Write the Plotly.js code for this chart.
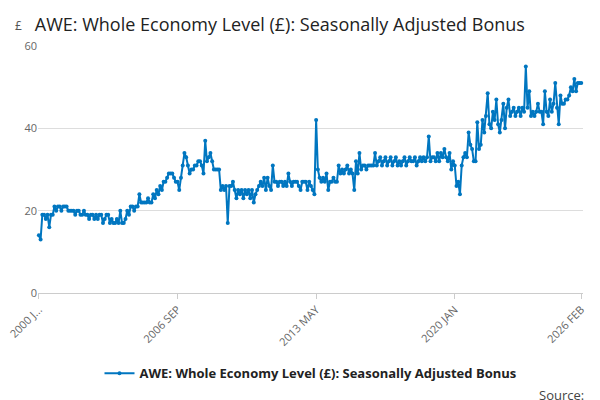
<!DOCTYPE html>
<html><head><meta charset="utf-8">
<script src="https://cdn.plot.ly/plotly-3.0.1.min.js"></script>
<style>body{margin:0}#c{width:600px;height:400px}</style></head>
<body><div id="c"></div>
<script>
const startYear = 2000;
const months = ["JAN","FEB","MAR","APR","MAY","JUN","JUL","AUG","SEP","OCT","NOV","DEC"];
const y2000=[14,13,19,19,18,19,16,19,19,21,20,21];
const y2001=[21,20,21,21,21,20,20,20,20,19,20,20];
const y2002=[19,19,20,19,19,18,19,19,18,19,18,19];
const y2003=[19,17,18,19,19,17,18,17,17,18,17,20];
const y2004=[17,17,18,20,19,21,21,20,21,21,24,22];
const y2005=[22,22,22,23,22,22,24,23,25,24,26,25];
const y2006=[27,27,28,29,29,29,28,27,27,25,28,31];
const y2007=[34,33,31,29,30,30,31,31,32,32,31,29];
const y2008=[37,32,33,34,32,30,30,30,30,25,26,25];
const y2009=[26,17,26,26,27,25,23,25,24,25,23,25];
const y2010=[24,25,23,25,22,24,25,26,27,26,28,25];
const y2011=[28,26,25,31,27,27,26,27,27,26,27,26];
const y2012=[29,27,26,27,27,27,26,25,27,27,27,25];
const y2013=[27,26,25,24,42,30,28,27,28,27,29,25];
const y2014=[27,27,28,27,27,31,29,30,29,30,31,29];
const y2015=[30,29,25,32,29,34,30,31,31,30,31,31];
const y2016=[31,31,34,31,32,33,31,32,33,31,32,33];
const y2017=[31,32,33,31,32,31,32,33,31,32,33,32];
const y2018=[32,33,31,32,33,32,33,32,33,38,32,33];
const y2019=[33,32,34,32,34,33,35,33,32,34,30,32];
const y2020=[31,26,27,24,31,33,34,33,39,36,35,32];
const y2021=[32,41.5,35,36,42,39,43,48.5,41,40,44,42];
const y2022=[47,41,39,42,46,40,45,47,43,44,45,43];
const y2023=[44,45,43,45,44,55,45,49,43,44,43,44];
const y2024=[46,44,44,41,49,44,43,47,44,46,51,45];
const y2025=[41,48,46,46,47,47,48,50,49,52,49,51];
const y2026=[51,51];
const tickIdx=[0,80,160,240,313];
const tickLabels=["2000 J...","2006 SEP","2013 MAY","2020 JAN","2026 FEB"];

const values=[].concat(y2000,y2001,y2002,y2003,y2004,y2005,y2006,y2007,y2008,y2009,y2010,y2011,y2012,y2013,y2014,y2015,y2016,y2017,y2018,y2019,y2020,y2021,y2022,y2023,y2024,y2025,y2026);
const cats=values.map((v,i)=>(startYear+Math.floor(i/12))+" "+months[i%12]);

Plotly.newPlot('c',[{
  x:cats, y:values, type:'scatter', mode:'lines+markers', cliponaxis:false,
  name:'AWE: Whole Economy Level (£): Seasonally Adjusted Bonus',
  line:{color:'#0076c0',width:2}, marker:{color:'#0076c0',size:4}
}],{
  width:600,height:400,
  font:{family:'Open Sans, sans-serif',color:'#444'},
  title:{text:'AWE: Whole Economy Level (£): Seasonally Adjusted Bonus',x:0.058,xanchor:'left',y:0.955,font:{size:18,color:'#222'}},
  margin:{l:38,r:17,t:46,b:107},
  xaxis:{type:'category',automargin:false,tickvals:tickIdx.map(i=>cats[i]),ticktext:tickLabels,tickangle:-45,
    showgrid:false,showline:true,linecolor:'#ccc',ticks:'outside',ticklen:5,tickcolor:'#ccc',
    tickfont:{size:11,color:'#666'},range:[-0.5,314]},
  yaxis:{automargin:false,range:[0,60],tickvals:[0,20,40,60],gridcolor:'#ddd',zeroline:false,tickfont:{size:11,color:'#666'},ticks:'',showline:false},
  showlegend:true,
  legend:{orientation:'h',x:0.5,xanchor:'center',y:-0.325,yanchor:'middle',font:{size:13,color:'#222',weight:'bold'}},
  annotations:[
    {text:'£',xref:'paper',yref:'paper',x:-0.045,y:1.04,xanchor:'left',yanchor:'bottom',showarrow:false,font:{size:12,color:'#555'}},
    {text:'Source:',xref:'paper',yref:'paper',x:1.005,y:-0.37,xanchor:'right',yanchor:'top',showarrow:false,font:{size:13,color:'#444'}}
  ]
},{displayModeBar:false});
</script></body></html>
